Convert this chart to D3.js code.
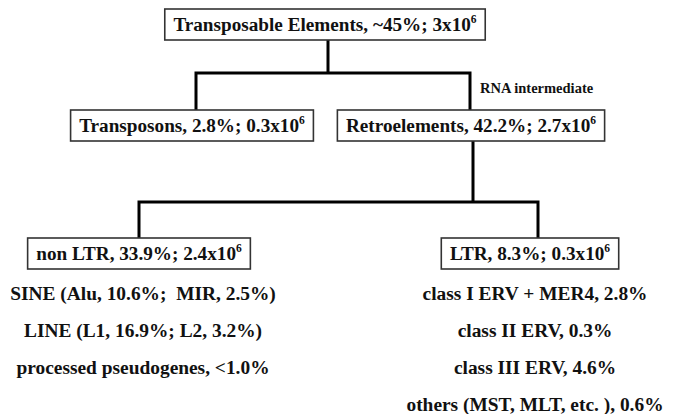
<!DOCTYPE html>
<html>
<head>
<meta charset="utf-8">
<script src="https://cdn.jsdelivr.net/npm/d3@7"></script>
<style>
  body { margin: 0; background: #fff; }
  text { font-family: "Liberation Serif", Tinos, "Times New Roman", serif; font-weight: bold; fill: #111; white-space: pre; }
</style>
</head>
<body>
<div id="chart"></div>
<script>
// labels, "^" marks a superscript
var rootLabel = "Transposable Elements, ~45%; 3x10^6";
var level1Labels = ["Transposons, 2.8%; 0.3x10^6", "Retroelements, 42.2%; 2.7x10^6"];
var level2Labels = ["non LTR, 33.9%; 2.4x10^6", "LTR, 8.3%; 0.3x10^6"];
var nonLtrItems = ["SINE (Alu, 10.6%;  MIR, 2.5%)", "LINE (L1, 16.9%; L2, 3.2%)", "processed pseudogenes, <1.0%"];
var ltrItems = ["class I ERV + MER4, 2.8%", "class II ERV, 0.3%", "class III ERV, 4.6%", "others (MST, MLT, etc. ), 0.6%"];
var branchNote = "RNA intermediate";

var svgWidth = 677;
var svgHeight = 414;

// layout of the diagram
var boxH = 31;
var pad = 8.5;
var rows = { root: 9, l1: 110, l2: 238 };
var rootX = 325;
var l1X = [192, 471];
var l2X = [139, 530];
var joinX1 = [196, 470], stemX1 = 328, barY1 = 73;
var joinX2 = [139, 538], stemX2 = 473, barY2 = 202;
var listX = [143, 535];
var listY = d3.scaleLinear().domain([0, 1]).range([300, 337]);

var svg = d3.select("#chart")
    .append("svg")
    .attr("width", svgWidth)
    .attr("height", svgHeight);

function addLabel(g, label, size) {
    var parts = label.split("^");
    var t = g.append("text")
        .attr("font-size", size)
        .attr("text-anchor", "middle");
    t.append("tspan").text(parts[0]);
    if (parts[1]) {
        t.append("tspan")
            .attr("font-size", size * 0.6)
            .attr("dy", -size * 0.38)
            .text(parts[1]);
    }
    return t;
}

function box(cx, y, label) {
    var g = svg.append("g");
    var t = addLabel(g, label, 19.2)
        .attr("x", cx)
        .attr("y", y + boxH / 2 + 6);
    var w = t.node().getBBox().width + pad * 2;
    g.insert("rect", "text")
        .attr("x", cx - w / 2)
        .attr("y", y)
        .attr("width", w)
        .attr("height", boxH)
        .attr("fill", "#fff")
        .attr("stroke", "#333")
        .attr("stroke-width", 1.6);
}

function connector(stemX, topY, barY, kids, bottomY) {
    var path = d3.path();
    path.moveTo(stemX, topY);
    path.lineTo(stemX, barY);
    path.moveTo(kids[0], bottomY);
    path.lineTo(kids[0], barY);
    path.lineTo(kids[1], barY);
    path.lineTo(kids[1], bottomY);
    svg.append("path")
        .attr("d", path.toString())
        .attr("fill", "none")
        .attr("stroke", "#000")
        .attr("stroke-width", 3);
}

connector(stemX1, rows.root + boxH, barY1, joinX1, rows.l1);
connector(stemX2, rows.l1 + boxH, barY2, joinX2, rows.l2);

box(rootX, rows.root, rootLabel);
level1Labels.forEach(function(d, i) { box(l1X[i], rows.l1, d); });
level2Labels.forEach(function(d, i) { box(l2X[i], rows.l2, d); });

svg.append("text")
    .attr("x", 480)
    .attr("y", 93)
    .attr("font-size", 14.5)
    .text(branchNote);

[nonLtrItems, ltrItems].forEach(function(items, k) {
    svg.selectAll("text.item" + k)
        .data(items)
        .enter()
        .append("text")
        .attr("class", "item" + k)
        .attr("x", listX[k])
        .attr("y", function(d, i) { return listY(i); })
        .attr("text-anchor", "middle")
        .attr("font-size", 19.4)
        .text(function(d) { return d; });
});
</script>
</body>
</html>
